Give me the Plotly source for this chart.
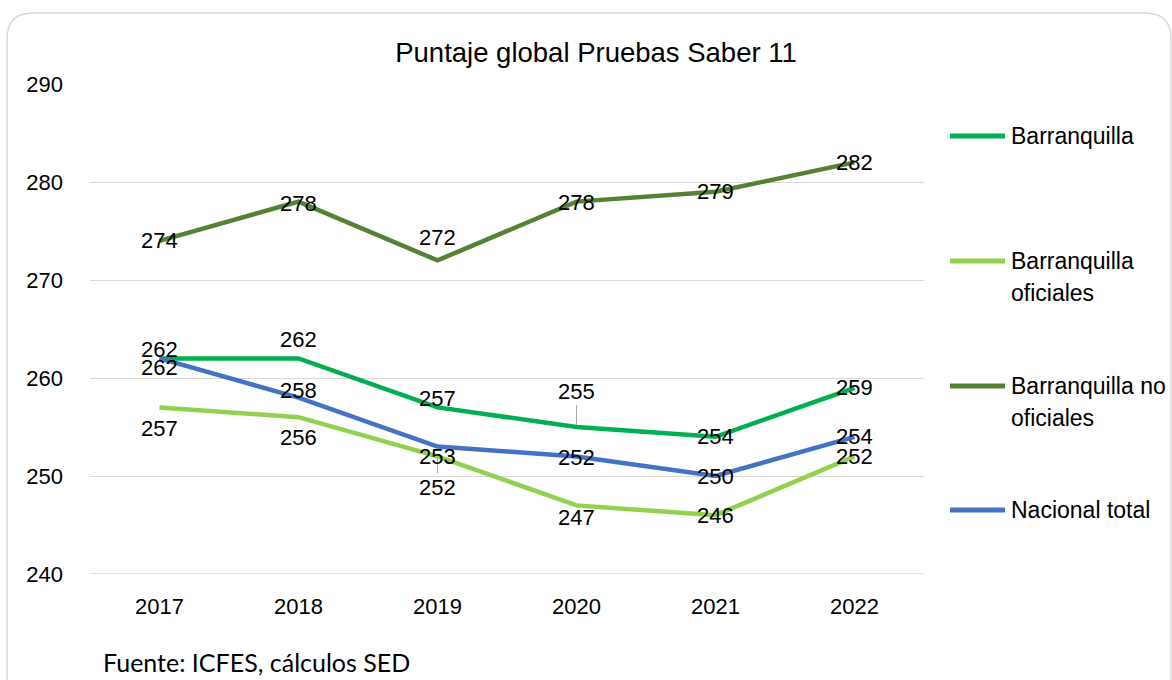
import plotly.graph_objects as go

# ---------------- data ----------------
years = ["2017", "2018", "2019", "2020", "2021", "2022"]
barranquilla = [262, 262, 257, 255, 254, 259]
barranquilla_oficiales = [257, 256, 252, 247, 246, 252]
barranquilla_no_oficiales = [274, 278, 272, 278, 279, 282]
nacional_total = [262, 258, 253, 252, 250, 254]
series_names = ["Barranquilla", "Barranquilla oficiales",
                "Barranquilla no oficiales", "Nacional total"]
legend_text_lines = [["Barranquilla"], ["Barranquilla", "oficiales"],
                     ["Barranquilla no", "oficiales"], ["Nacional total"]]
y_ticks = [240, 250, 260, 270, 280, 290]
title_text = "Puntaje global Pruebas Saber 11"
source_text = "Fuente: ICFES, cálculos SED"

# ---------------- styling ----------------
W, H = 1172, 680
PL, PR, PT, PB = 90, 924, 84, 574  # plot area in pixels
colors = ["#00b050", "#92d050", "#548235", "#4472c4"]
FONT = "Liberation Sans, Arial, sans-serif"
GRID = "#d9d9d9"
# label offsets (pixels, positive = down) and whether a leader line is drawn
label_dy = [
    [-9, -19, -9, -36, 0, 0],
    [21, 20, 31, 12, 0, 0],
    [0, 2, -23, 1, 0, 0],
    [9, -7, 10, 1, 0, 0],
]
leader = [
    [False, False, False, True, False, False],
    [False, False, True, False, False, False],
    [False] * 6,
    [False] * 6,
]
legend_line_y = [136, 261, 386, 510]
legend_line_gap = 32


def px_to_paper_x(px):
    return (px - PL) / (PR - PL)


def px_to_paper_y(py):
    return (PB - py) / (PB - PT)


all_series = [barranquilla, barranquilla_oficiales,
              barranquilla_no_oficiales, nacional_total]

fig = go.Figure()
for name, vals, col in zip(series_names, all_series, colors):
    fig.add_trace(go.Scatter(
        x=years, y=vals, name=name, mode="lines",
        line=dict(color=col, width=4.5),
        showlegend=False, hoverinfo="x+y+name",
    ))

annotations = []
for si, vals in enumerate(all_series):
    for i, v in enumerate(vals):
        dy = label_dy[si][i]
        if leader[si][i]:
            annotations.append(dict(
                x=i, y=v, xref="x", yref="y", text=str(v),
                showarrow=True, ax=0, ay=dy, arrowhead=0, arrowwidth=1,
                arrowcolor="#a6a6a6", standoff=2,
                font=dict(family=FONT, size=22, color="#000000"),
            ))
        else:
            annotations.append(dict(
                x=i, y=v, xref="x", yref="y", text=str(v),
                showarrow=False, yshift=-dy,
                font=dict(family=FONT, size=22, color="#000000"),
            ))

shapes = []
# bottom gridline (plotly drops the gridline at the range edge)
shapes.append(dict(type="line", xref="paper", yref="y", x0=0, x1=1,
                   y0=y_ticks[0], y1=y_ticks[0],
                   line=dict(color=GRID, width=1.3), layer="below"))
# legend (manual, to match the wide spacing)
for li, (lines, col, ly) in enumerate(zip(legend_text_lines, colors, legend_line_y)):
    shapes.append(dict(
        type="line", xref="paper", yref="paper",
        x0=px_to_paper_x(950), x1=px_to_paper_x(1005),
        y0=px_to_paper_y(ly), y1=px_to_paper_y(ly),
        line=dict(color=col, width=5),
    ))
    for k, t in enumerate(lines):
        annotations.append(dict(
            x=px_to_paper_x(1009), y=px_to_paper_y(ly + k * legend_line_gap),
            xref="paper", yref="paper", xanchor="left", yanchor="middle",
            text=t, showarrow=False,
            font=dict(family=FONT, size=23, color="#000000"),
        ))

# source note
annotations.append(dict(
    x=px_to_paper_x(101), y=px_to_paper_y(662), xref="paper", yref="paper",
    xanchor="left", yanchor="middle", text=source_text, showarrow=False,
    font=dict(family="Lato, Open Sans, sans-serif", size=25, color="#000000"),
))

# rounded outer border
bx0, by0, bx1, by1, r = 7, 13, 1171, 705, 26
X = px_to_paper_x
Y = px_to_paper_y
path = (
    f"M {X(bx0)},{Y(by0 + r)} "
    f"Q {X(bx0)},{Y(by0)} {X(bx0 + r)},{Y(by0)} "
    f"L {X(bx1 - r)},{Y(by0)} "
    f"Q {X(bx1)},{Y(by0)} {X(bx1)},{Y(by0 + r)} "
    f"L {X(bx1)},{Y(by1 - r)} "
    f"Q {X(bx1)},{Y(by1)} {X(bx1 - r)},{Y(by1)} "
    f"L {X(bx0 + r)},{Y(by1)} "
    f"Q {X(bx0)},{Y(by1)} {X(bx0)},{Y(by1 - r)} Z"
)
shapes.append(dict(type="path", path=path, xref="paper", yref="paper",
                    line=dict(color=GRID, width=1.5), layer="below"))

fig.update_layout(
    width=W, height=H,
    margin=dict(l=PL, r=W - PR, t=PT, b=H - PB),
    paper_bgcolor="white", plot_bgcolor="white",
    title=dict(text=title_text, x=596 / W, xanchor="center",
               y=1 - 52 / H, yanchor="middle", xref="container", yref="container",
               font=dict(family=FONT, size=27.5, color="#000000")),
    xaxis=dict(type="category", range=[-0.5, 5.5], showgrid=False,
               showline=False, zeroline=False, ticks="",
               tickfont=dict(family=FONT, size=22, color="#000000"),
               ticklabelstandoff=17),
    yaxis=dict(range=[240, 290], tickvals=y_ticks, showgrid=True,
               gridcolor=GRID, gridwidth=1.3, zeroline=False,
               showline=False, ticks="",
               tickfont=dict(family=FONT, size=22, color="#000000"),
               ticklabelstandoff=26),
    annotations=annotations,
    shapes=shapes,
    showlegend=False,
)

fig.write_html("out.html",
               config={"displayModeBar": False},
               post_script="document.body.style.margin='0px';")
